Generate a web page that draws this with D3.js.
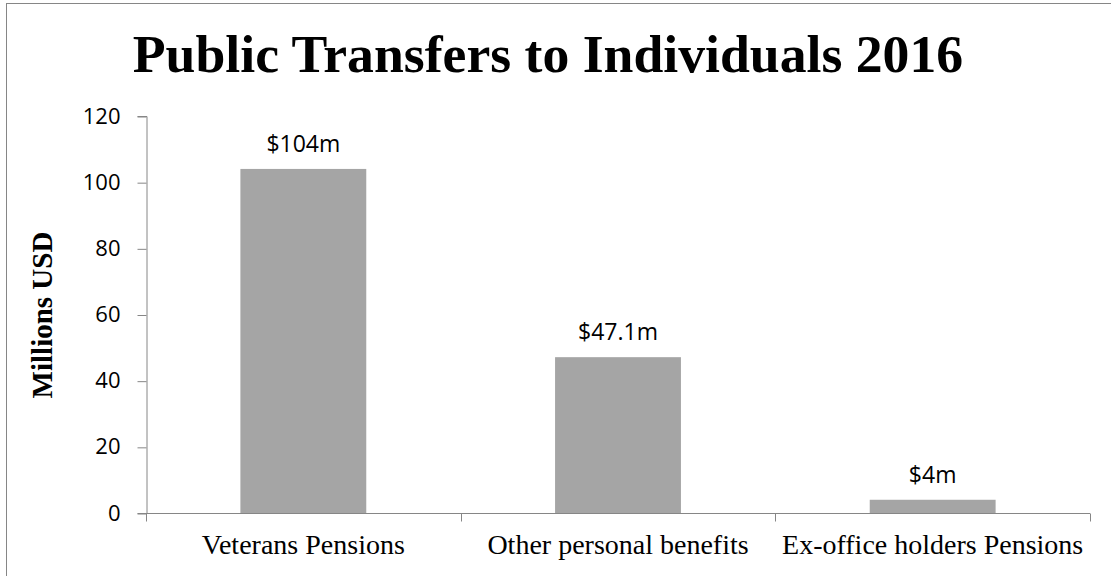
<!DOCTYPE html>
<html lang="en">
<head>
  <meta charset="UTF-8">
  <title>Public Transfers to Individuals 2016</title>
  <script src="https://d3js.org/d3.v7.min.js"></script>
  <style>
    body { margin: 0; background: #fff; }
    .axis path, .axis line { stroke: #868686; }
    .y-tick text { font-family: "Open Sans", sans-serif; font-size: 22px; fill: #000; }
    .x-cat text { font-family: "Liberation Serif", serif; font-size: 28px; fill: #000; }
  </style>
</head>
<body>
  <svg id="chart" width="1111" height="576"></svg>
  <script>
    // Data
    const categories = ['Veterans Pensions', 'Other personal benefits', 'Ex-office holders Pensions'];
    const values = [104, 47.1, 4];
    const valueLabels = ['$104m', '$47.1m', '$4m'];
    const yTicks = [0, 20, 40, 60, 80, 100, 120];

    const svg = d3.select('#chart');
    const plot = { left: 146, right: 1090, top: 116, bottom: 513 };

    // outer frame (runs off the right and bottom edge like the original)
    svg.append('rect')
      .attr('x', 6.5).attr('y', 3.5)
      .attr('width', 1200).attr('height', 700)
      .attr('fill', 'none')
      .attr('stroke', '#868686');

    const x = d3.scaleBand()
      .domain(categories)
      .range([plot.left, plot.right])
      .paddingInner(0.6)
      .paddingOuter(0.3);

    const y = d3.scaleLinear()
      .domain([0, 120])
      .range([plot.bottom, plot.top]);

    // title
    svg.append('text')
      .attr('x', 548).attr('y', 72)
      .attr('text-anchor', 'middle')
      .attr('font-family', '"Liberation Serif", serif')
      .attr('font-weight', 'bold')
      .attr('font-size', 53.7)
      .text('Public Transfers to Individuals 2016');

    // y axis
    const yAxis = svg.append('g')
      .attr('class', 'axis y-tick')
      .attr('transform', `translate(${plot.left + 0.5},0)`)
      .call(d3.axisLeft(y).tickValues(yTicks).tickSize(9).tickSizeOuter(9).tickPadding(17));
    yAxis.selectAll('.tick line').attr('transform', 'translate(0,0.5)');

    // bars
    svg.selectAll('.bar')
      .data(values)
      .join('rect')
      .attr('class', 'bar')
      .attr('x', (d, i) => x(categories[i]))
      .attr('width', x.bandwidth())
      .attr('y', d => y(d))
      .attr('height', d => y(0) - y(d))
      .attr('fill', '#a5a5a5');

    // x axis (ticks sit between categories)
    const xb = svg.append('g')
      .attr('class', 'axis x-cat')
      .attr('transform', `translate(0,${plot.bottom + 0.5})`);
    xb.append('line')
      .attr('x1', plot.left).attr('x2', plot.right);
    const edges = d3.range(categories.length + 1).map(i => plot.left + i * x.step());
    xb.selectAll('.edge')
      .data(edges)
      .join('line')
      .attr('class', 'edge')
      .attr('x1', d => Math.round(d) + 0.5).attr('x2', d => Math.round(d) + 0.5)
      .attr('y1', 0).attr('y2', 8);
    xb.selectAll('text')
      .data(categories)
      .join('text')
      .attr('x', d => x(d) + x.bandwidth() / 2)
      .attr('y', 40)
      .attr('text-anchor', 'middle')
      .text(d => d);

    // value labels
    svg.selectAll('.val')
      .data(values)
      .join('text')
      .attr('class', 'val')
      .attr('x', (d, i) => x(categories[i]) + x.bandwidth() / 2)
      .attr('y', d => y(d) - 17)
      .attr('text-anchor', 'middle')
      .attr('font-family', '"Open Sans", sans-serif')
      .attr('font-size', 23)
      .text((d, i) => valueLabels[i]);

    // y axis title
    svg.append('text')
      .attr('transform', `translate(52,${(232 + 398) / 2}) rotate(-90)`)
      .attr('text-anchor', 'middle')
      .attr('font-family', '"Liberation Serif", serif')
      .attr('font-weight', 'bold')
      .attr('font-size', 29)
      .text('Millions USD');
  </script>
</body>
</html>
